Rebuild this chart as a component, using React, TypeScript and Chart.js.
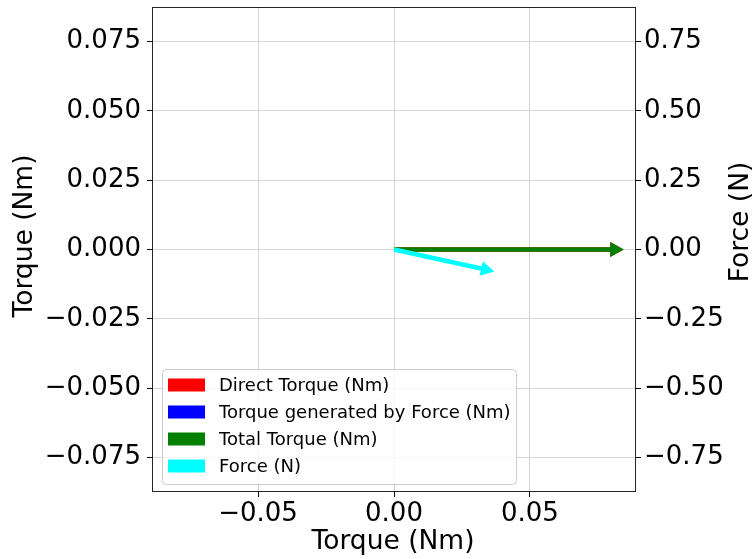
import React, { useEffect, useRef } from "react";
import { Chart, registerables } from "chart.js";

Chart.register(...registerables);

// ---- data ----
const seriesLabels = [
  "Direct Torque (Nm)",
  "Torque generated by Force (Nm)",
  "Total Torque (Nm)",
  "Force (N)",
];
const seriesColors = ["#ff0000", "#0000ff", "#008000", "#00ffff"];
const seriesAxis = ["y", "y", "y", "y1"];
const vectorX = [0.0845, 0.0, 0.0845, 0.0369];
const vectorY = [0.0, 0.0, 0.0, -0.079];

const xTicks = [-0.05, 0.0, 0.05];
const torqueTicks = [-0.075, -0.05, -0.025, 0.0, 0.025, 0.05, 0.075];
const forceTicks = [-0.75, -0.5, -0.25, 0.0, 0.25, 0.5, 0.75];

const xLimit = 0.089;
const torqueLimit = 0.0875;
const forceLimit = 0.875;

const xTitle = "Torque (Nm)";
const leftTitle = "Torque (Nm)";
const rightTitle = "Force (N)";

const FONT = "DejaVu Sans";
const TICK_SIZE = 26;
const TITLE_SIZE = 26.5;
const LEGEND_SIZE = 18;

const fmt = (v: number, d: number) => {
  const s = Math.abs(v).toFixed(d);
  return v < -1e-12 ? "\u2212" + s : s;
};

const arrowPlugin = {
  id: "arrows",
  afterDatasetsDraw(chart: any) {
    const ctx = chart.ctx;
    const xs = chart.scales.x;
    const shaftW = 4.5;
    const headW = 15;
    const headL = 13.5;
    chart.data.datasets.forEach((ds: any) => {
      const ys = chart.scales[ds.yAxisID];
      const p0 = ds.data[0];
      const p1 = ds.data[1];
      const x0 = xs.getPixelForValue(p0.x);
      const y0 = ys.getPixelForValue(p0.y);
      const x1 = xs.getPixelForValue(p1.x);
      const y1 = ys.getPixelForValue(p1.y);
      const dx = x1 - x0;
      const dy = y1 - y0;
      const len = Math.hypot(dx, dy);
      if (len < 0.5) return;
      const ux = dx / len;
      const uy = dy / len;
      const nx = -uy;
      const ny = ux;
      const hl = Math.min(headL, len);
      const bx = x1 - ux * hl;
      const by = y1 - uy * hl;
      ctx.save();
      ctx.fillStyle = ds.borderColor;
      ctx.beginPath();
      ctx.moveTo(x0 + nx * shaftW / 2, y0 + ny * shaftW / 2);
      ctx.lineTo(bx + nx * shaftW / 2, by + ny * shaftW / 2);
      ctx.lineTo(bx + nx * headW / 2, by + ny * headW / 2);
      ctx.lineTo(x1, y1);
      ctx.lineTo(bx - nx * headW / 2, by - ny * headW / 2);
      ctx.lineTo(bx - nx * shaftW / 2, by - ny * shaftW / 2);
      ctx.lineTo(x0 - nx * shaftW / 2, y0 - ny * shaftW / 2);
      ctx.closePath();
      ctx.fill();
      ctx.restore();
    });
  },
  afterDraw(chart: any) {
    const ctx = chart.ctx;
    const a = chart.chartArea;
    ctx.save();
    // frame
    ctx.strokeStyle = "rgba(0,0,0,0.85)";
    ctx.lineWidth = 1;
    ctx.strokeRect(a.left + 0.5, a.top + 0.5, a.right - a.left - 1, a.bottom - a.top - 1);

    // titles
    ctx.fillStyle = "#000";
    ctx.font = `${TITLE_SIZE}px "${FONT}"`;
    ctx.textAlign = "center";
    ctx.textBaseline = "middle";
    ctx.fillText(xTitle, (a.left + a.right) / 2 - 1, 542);
    ctx.save();
    ctx.translate(25, 236);
    ctx.rotate(-Math.PI / 2);
    ctx.fillText(leftTitle, 0, 0);
    ctx.restore();
    ctx.save();
    ctx.translate(741, 222);
    ctx.rotate(-Math.PI / 2);
    ctx.fillText(rightTitle, 0, 0);
    ctx.restore();

    // legend
    const lx = a.left + 10;
    const ly = 369;
    const lw = 354;
    const lh = 115;
    ctx.beginPath();
    ctx.roundRect(lx + 0.5, ly + 0.5, lw, lh, 4);
    ctx.fillStyle = "rgba(255,255,255,0.8)";
    ctx.fill();
    ctx.strokeStyle = "#cccccc";
    ctx.lineWidth = 1;
    ctx.stroke();
    ctx.font = `${LEGEND_SIZE}px "${FONT}"`;
    ctx.textAlign = "left";
    ctx.textBaseline = "middle";
    chart.data.datasets.forEach((ds: any, i: number) => {
      const cy = 385 + i * 27;
      ctx.fillStyle = ds.borderColor;
      ctx.fillRect(lx + 6, cy - 6.5, 37, 13);
      ctx.fillStyle = "#000";
      ctx.fillText(ds.label, lx + 57, cy + 1);
    });
    ctx.restore();
  },
};

export default function App() {
  const ref = useRef<HTMLCanvasElement | null>(null);
  useEffect(() => {
    document.body.style.margin = "0";
    const canvas = ref.current!;
    const datasets = seriesLabels.map((label, i) => ({
      label,
      data: [
        { x: 0, y: 0 },
        { x: vectorX[i], y: vectorY[i] },
      ],
      borderColor: seriesColors[i],
      backgroundColor: seriesColors[i],
      yAxisID: seriesAxis[i],
      showLine: false,
      pointRadius: 0,
    }));
    const tickFont = { family: FONT, size: TICK_SIZE };
    const zeroPad = (s: any) => {
      s.paddingTop = 0;
      s.paddingBottom = 0;
      s.paddingLeft = 0;
      s.paddingRight = 0;
    };
    const chart = new Chart(canvas, {
      type: "scatter",
      data: { datasets },
      plugins: [arrowPlugin],
      options: {
        animation: false,
        responsive: false,
        devicePixelRatio: 1,
        layout: { padding: { top: 7, left: 0, right: 0, bottom: 0 } },
        plugins: { legend: { display: false }, tooltip: { enabled: false } },
        scales: {
          x: {
            type: "linear",
            min: -xLimit,
            max: xLimit,
            afterBuildTicks: (s: any) => {
              s.ticks = xTicks.map((v) => ({ value: v }));
            },
            afterFit: (s: any) => {
              s.height = 67;
              zeroPad(s);
            },
            ticks: {
              font: tickFont,
              color: "#000",
              padding: 2,
              maxRotation: 0,
              autoSkip: false,
              callback: (v: any) => fmt(Number(v), 2),
            },
            grid: { color: "#d4d4d4", tickColor: "#000", tickLength: 5, lineWidth: 1 },
            border: { display: false },
          },
          y: {
            type: "linear",
            position: "left",
            min: -torqueLimit,
            max: torqueLimit,
            afterBuildTicks: (s: any) => {
              s.ticks = torqueTicks.map((v) => ({ value: v }));
            },
            afterFit: (s: any) => {
              s.width = 152;
              zeroPad(s);
            },
            ticks: {
              font: tickFont,
              color: "#000",
              padding: 6,
              autoSkip: false,
              callback: (v: any) => fmt(Number(v), 3),
            },
            grid: { color: "#d4d4d4", tickColor: "#000", tickLength: 5, lineWidth: 1 },
            border: { display: false },
          },
          y1: {
            type: "linear",
            position: "right",
            min: -forceLimit,
            max: forceLimit,
            afterBuildTicks: (s: any) => {
              s.ticks = forceTicks.map((v) => ({ value: v }));
            },
            afterFit: (s: any) => {
              s.width = 117;
              zeroPad(s);
            },
            ticks: {
              font: tickFont,
              color: "#000",
              padding: 3,
              autoSkip: false,
              callback: (v: any) => fmt(Number(v), 2),
            },
            grid: { drawOnChartArea: false, tickColor: "#000", tickLength: 5 },
            border: { display: false },
          },
        },
      } as any,
    });
    return () => chart.destroy();
  }, []);
  return <canvas ref={ref} width={753} height={559} style={{ display: "block" }} />;
}
